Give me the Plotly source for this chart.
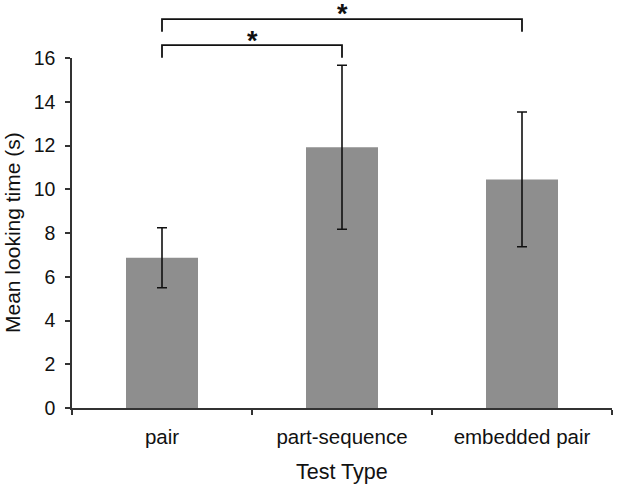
import plotly.graph_objects as go

categories = ["pair", "part-sequence", "embedded pair"]
mean_looking = [6.87, 11.92, 10.45]
error_vals = [1.37, 3.75, 3.08]
y_ticks = [0, 2, 4, 6, 8, 10, 12, 14, 16]
comparisons = [("pair", "part-sequence"), ("pair", "embedded pair")]

FONT = "Arial, 'Liberation Sans', sans-serif"
BAR_COLOR = "#8e8e8e"
INK = "#111111"

fig = go.Figure()
fig.add_trace(go.Bar(
    x=categories, y=mean_looking, width=0.4,
    marker=dict(color=BAR_COLOR, line=dict(width=0)),
    error_y=dict(type="data", array=error_vals, visible=True,
                 color=INK, thickness=1.6, width=5),
    showlegend=False,
))

# significance brackets (paper y levels above the plot area)
levels = [1.037, 1.111]
star_levels = [1.06, 1.137]
drop = 0.036
for (a, b), lvl, slvl in zip(comparisons, levels, star_levels):
    xa = categories.index(a)
    xb = categories.index(b)
    fig.add_shape(type="path", xref="x", yref="paper",
                  path=f"M {xa},{lvl - drop} L {xa},{lvl} L {xb},{lvl} L {xb},{lvl - drop}",
                  line=dict(color=INK, width=1.8))
    fig.add_annotation(x=(xa + xb) / 2, xref="x", y=slvl, yref="paper",
                       text="<b>*</b>", showarrow=False, yanchor="middle",
                       yshift=-4, font=dict(family=FONT, size=27, color=INK))

# axis titles
fig.add_annotation(text="Mean looking time (s)", xref="paper", yref="paper",
                   x=0, y=0.5, xanchor="center", yanchor="middle", xshift=-60,
                   textangle=-90, showarrow=False, font=dict(family=FONT, size=21, color=INK))
fig.add_annotation(text="Test Type", xref="paper", yref="paper",
                   x=0.5, y=0, xanchor="center", yanchor="middle", yshift=-64,
                   showarrow=False, font=dict(family=FONT, size=21.5, color=INK))

fig.update_layout(
    width=617, height=486,
    margin=dict(l=72, r=5, t=58, b=78, autoexpand=False),
    plot_bgcolor="white", paper_bgcolor="white",
    font=dict(family=FONT, color=INK),
)
fig.update_xaxes(
    range=[-0.5, 2.5], showline=True, linecolor="#333333", linewidth=1.5,
    ticks="outside", tickson="boundaries", ticklen=5, tickcolor="#333333", tickwidth=1.5,
    tickfont=dict(size=20.5), showgrid=False, zeroline=False, automargin=False,
    ticklabelstandoff=10,
)
fig.update_yaxes(
    range=[0, 16], tickvals=y_ticks, showline=True, linecolor="#333333", linewidth=1.5,
    ticks="outside", ticklen=5, tickcolor="#333333", tickwidth=1.5,
    tickfont=dict(size=19.5), showgrid=False, zeroline=False, ticklabelstandoff=6,
    automargin=False,
)

fig.write_html(
    "out.html",
    config={"displayModeBar": False},
    post_script="document.body.style.margin='0';document.body.style.padding='0';"
                "document.documentElement.style.overflow='hidden';",
)
